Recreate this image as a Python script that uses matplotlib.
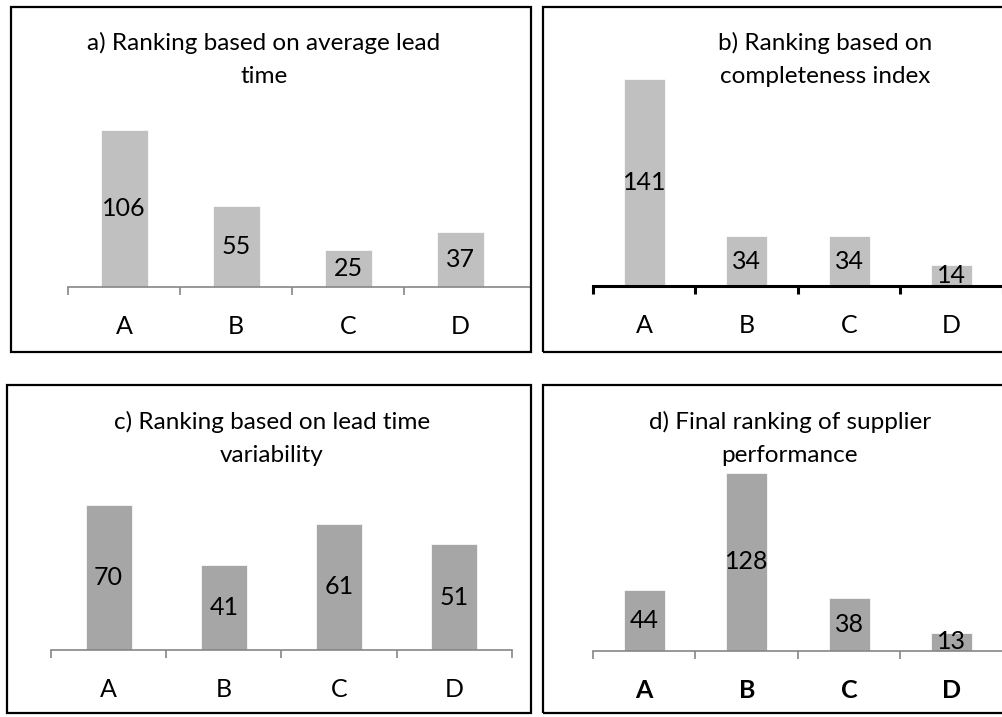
import matplotlib
matplotlib.use("Agg")
import matplotlib.pyplot as plt
from matplotlib.patches import Rectangle

plt.rcParams['font.family'] = ['Lato', 'DejaVu Sans']

suppliers = ['A', 'B', 'C', 'D']
lead_time = [106, 55, 25, 37]
completeness = [141, 34, 34, 14]
variability = [70, 41, 61, 51]
final_rank = [44, 128, 38, 13]

titles = ['a) Ranking based on average lead\ntime',
          'b) Ranking based on\ncompleteness index',
          'c) Ranking based on lead time\nvariability',
          'd) Final ranking of supplier\nperformance']

W, H = 1003, 717
fig = plt.figure(figsize=(W / 100, H / 100), dpi=100)


def fx(px):
    return px / W


def fy(py):
    return 1 - py / H


# panel frames (pixels: left, top, right, bottom)
frames = [(11, 7, 531, 352), (543, 7, 1010, 352),
          (7, 385, 531, 713), (543, 385, 1010, 713)]
for l, t, r, b in frames:
    fig.add_artist(Rectangle((fx(l), fy(b)), fx(r) - fx(l), fy(t) - fy(b),
                             transform=fig.transFigure, fill=False,
                             edgecolor='black', linewidth=1.6))

# axes: left px, baseline px, top px, right px, xmax, ymax, bar width, colour, axis colour
panels = [
    (68, 287, 80, 531, 3.63, 140, 0.42, '#C0C0C0', '#868686', lead_time),
    (593, 286, 70, 1003, 3.41, 147, 0.40, '#C0C0C0', 'black', completeness),
    (51, 650, 480, 512, 3.5, 82, 0.40, '#A6A6A6', '#868686', variability),
    (593, 651, 470, 1003, 3.39, 130, 0.40, '#A6A6A6', '#868686', final_rank),
]
title_pos = [(264, 43), (825, 43), (272, 422), (790, 422)]

for k, (l, base, top, r, xmax, ymax, bw, col, acol, vals) in enumerate(panels):
    ax = fig.add_axes([fx(l), fy(base), fx(r) - fx(l), fy(top) - fy(base)])
    x = range(len(suppliers))
    ax.bar(x, vals, width=bw, color=col, edgecolor='white', linewidth=0.5)
    for i, v in enumerate(vals):
        ax.text(i, v / 2, str(v), ha='center', va='center', fontsize=18, color='black')
    ax.set_xlim(-0.5, xmax)
    ax.set_ylim(0, ymax)
    for s in ['top', 'right', 'left']:
        ax.spines[s].set_visible(False)
    lw = 2.2 if acol == 'black' else 1.2
    ax.spines['bottom'].set_color(acol)
    ax.spines['bottom'].set_linewidth(lw)
    ax.set_yticks([])
    ax.set_xticks([-0.5, 0.5, 1.5, 2.5] + ([] if k == 0 else [3.5]))
    ax.set_xticklabels([])
    ax.tick_params(axis='x', which='major', direction='out', length=6, width=lw, color=acol)
    ax.set_xticks(list(x), minor=True)
    ax.set_xticklabels(suppliers, minor=True, fontsize=18,
                       fontweight='bold' if k == 3 else 'normal')
    ax.tick_params(axis='x', which='minor', length=0, pad=20)
    ax.patch.set_alpha(0)
    tx, ty = title_pos[k]
    fig.text(fx(tx), fy(ty + 16.5), titles[k], ha='center', va='center', fontsize=17.5,
             linespacing=1.72, transform=fig.transFigure)

fig.savefig('out.png', dpi=100)
